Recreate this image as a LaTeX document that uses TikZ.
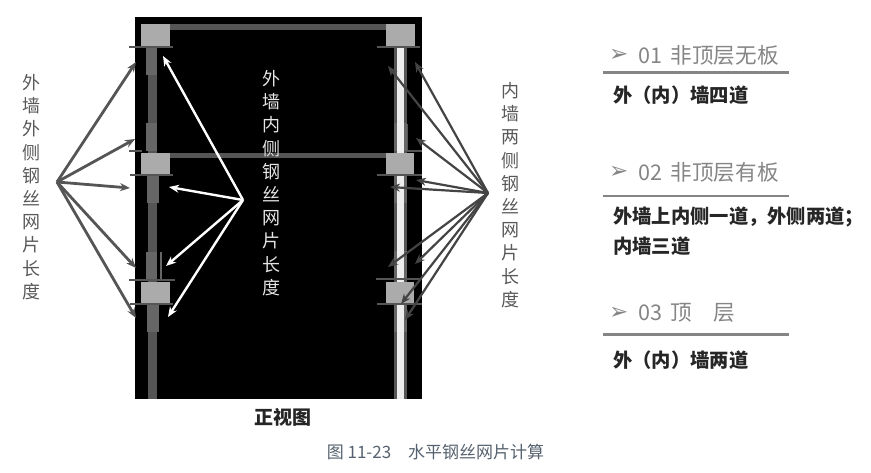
\documentclass[tikz,border=0pt]{standalone}
\usepackage{fontspec}
\setmainfont{Noto Sans CJK SC}
\newfontfamily\symfont{DejaVu Sans}
\usetikzlibrary{arrows.meta}
\definecolor{steel}{HTML}{555555}
\definecolor{sleeve}{HTML}{666666}
\definecolor{block}{HTML}{ABABAB}
\definecolor{ptr}{HTML}{555555}
\definecolor{ptrr}{HTML}{444444}
\definecolor{head}{HTML}{858585}
\definecolor{capt}{HTML}{56626F}
\tikzset{
  plate/.style={draw=steel,line width=1.8pt},
  wallarrow/.style={-{Stealth[length=10pt,width=8pt]},line width=#1},
  vtext/.style={align=center,inner sep=0pt,font=\fontsize{18}{23.2}\selectfont},
  headtext/.style={anchor=west,inner sep=0pt,text=head,font=\fontsize{21.6}{24}\selectfont},
  marktext/.style={anchor=west,inner sep=0pt,text=head,draw=none,font=\symfont\fontsize{23}{24}\selectfont},
  bodytext/.style={anchor=west,inner sep=0pt,text=black!85,font=\fontsize{19.3}{22}\selectfont\bfseries},
  headrule/.style={draw=head,line width=2.4pt}
}
\begin{document}
\begin{tikzpicture}[x=1pt,y=-1pt]
\useasboundingbox (0,0) rectangle (871,472);
% frame
\fill[black] (135,17) rectangle (422,399);
% beams
\fill[steel] (170,24) rectangle (386,30);
\fill[steel] (170,153) rectangle (386,158);
% left column
\fill[steel] (148,46) rectangle (157,399);
\foreach \a/\b in {47/75,123/151,252/280}{\fill[sleeve] (146,\a) rectangle (157,\b);}
\foreach \a/\b in {175/203,304/332}{\fill[sleeve] (147,\a) rectangle (159,\b);}
\fill[sleeve] (159.5,252) rectangle (161.5,280);
% right column
\fill[steel] (394,46) rectangle (407,399);
\fill[white!93!black] (397,46) rectangle (404,399);
\foreach \a/\b in {123/151,175/203,251/280,304/332}{\fill[sleeve] (393.5,\a) rectangle (397,\b);\fill[sleeve] (404,\a) rectangle (407,\b);}
\draw[plate] (407.5,124) -- (407.5,151) -- (422,151);
% plates
\draw[plate] (129,47) -- (173,47);
\draw[plate] (129,151) -- (142,151);
\draw[plate] (130,175) -- (173,175);
\draw[plate] (129,280) -- (175,280);
\draw[plate] (130,304) -- (173,304);
\draw[plate] (377,47) -- (420,47);
\draw[plate] (377,175) -- (422,175);
\draw[plate] (376,279) -- (420,279);
\draw[plate] (377,304) -- (422,304);
% blocks
\fill[block] (141,24) rectangle (170,46);
\fill[block] (141,153) rectangle (170,174);
\fill[block] (141,282) rectangle (170,303);
\fill[block] (386,24) rectangle (415,46);
\fill[block] (386,153) rectangle (414,174);
\fill[block] (386,282) rectangle (414,303);
% arrow ends
\coordinate (LO) at (57,182);
\coordinate (L1) at (136,62);
\coordinate (L2) at (135,139);
\coordinate (L3) at (130,188);
\coordinate (L4) at (136,268);
\coordinate (L5) at (136,318);
\coordinate (MO) at (243,200);
\coordinate (M1) at (163,56);
\coordinate (M2) at (169,187);
\coordinate (M3) at (166,266);
\coordinate (M4) at (168,317);
\coordinate (RO) at (488,193);
\coordinate (R1) at (415,62);
\coordinate (R2) at (388,66);
\coordinate (R3) at (416,138);
\coordinate (R4) at (416,180);
\coordinate (R5) at (390,187);
\coordinate (R6) at (388,267);
\coordinate (R7) at (415,264);
\coordinate (R8) at (401,304);
\coordinate (R9) at (405,320);
\foreach \t in {L1,L2,L3,L4,L5}{\draw[wallarrow=2.8pt,draw=ptr,fill=ptr] (LO) -- (\t);}
\foreach \t in {M1,M2,M3,M4}{\draw[wallarrow=2.4pt,draw=white,fill=white] (MO) -- (\t);}
\foreach \t in {R1,R2,R3,R4,R5,R6,R7,R8,R9}{\draw[wallarrow=2.2pt,draw=ptrr,fill=ptrr] (RO) -- (\t);}
% vertical labels
\node[vtext,text=black!65] (outer) at (32,187) {外\\墙\\外\\侧\\钢\\丝\\网\\片\\长\\度};
\node[vtext,text=white!90!black] (inner) at (271,183) {外\\墙\\内\\侧\\钢\\丝\\网\\片\\长\\度};
\node[vtext,text=black!65] (both) at (510,195) {内\\墙\\两\\侧\\钢\\丝\\网\\片\\长\\度};
% view and caption
\node[inner sep=0pt,text=black!85,font=\fontsize{19}{22}\selectfont\bfseries] (view) at (283,417) {正视图};
\node[inner sep=0pt,text=capt,font=\fontsize{17}{20}\selectfont] (caption) at (435.5,452) {图 11-23\hspace{1em}水平钢丝网片计算};
% right panel
\node[marktext] (m1) at (609,55) {➢};
\node[headtext] (h1) at (638,55) {01\hspace{0.4em}非顶层无板};
\draw[headrule] (603,72.5) -- (789,72.5);
\node[bodytext] (b1) at (613,95) {外（内）墙四道};
\node[marktext] (m2) at (609,172) {➢};
\node[headtext] (h2) at (638,172) {02\hspace{0.4em}非顶层有板};
\draw[headrule] (603,196) -- (789,196);
\node[bodytext] (b2) at (613,217) {外墙上内侧一道，外侧两道；};
\node[bodytext] (b3) at (613,246) {内墙三道};
\node[marktext] (m3) at (609,313) {➢};
\node[headtext] (h3) at (638,313) {03\hspace{0.4em}顶\hspace{1em}层};
\draw[headrule] (603,334.5) -- (789,334.5);
\node[bodytext] (b4) at (613,360) {外（内）墙两道};
\end{tikzpicture}
\end{document}
